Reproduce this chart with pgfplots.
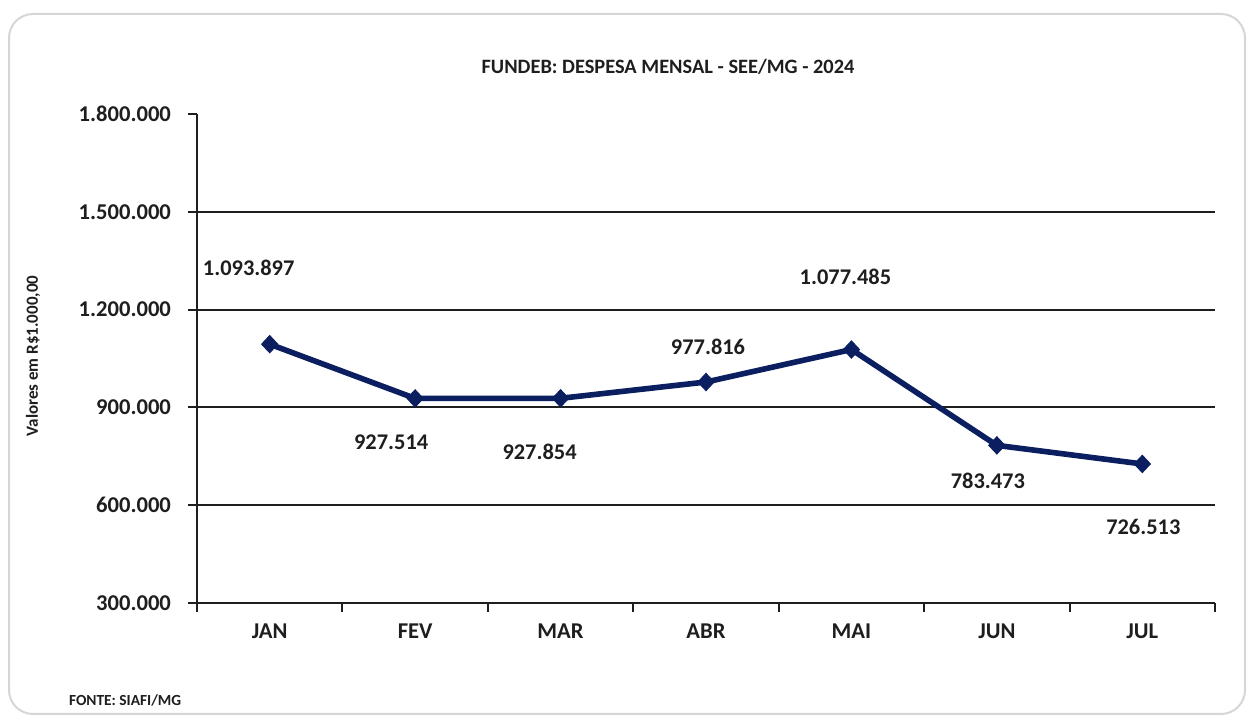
\documentclass[border=0pt]{standalone}
\usepackage{fontspec}
\setmainfont{Carlito}
\usepackage{pgfplots}
\pgfplotsset{compat=1.18}
\definecolor{navy}{RGB}{10,30,96}
\definecolor{ink}{RGB}{30,30,30}
\tikzset{lab/.style={font=\bfseries\fontsize{11.2}{13}\selectfont, text=ink}}
\begin{document}
\begin{tikzpicture}[x=1pt,y=1pt]
\useasboundingbox (0,0) rectangle (626,358);
\draw[color=black!16, line width=1pt, rounded corners=12pt] (4.5,1) rectangle (622.5,351);
\node[font=\bfseries\fontsize{10.2}{12}\selectfont, text=ink] at (334,324.5) {FUNDEB: DESPESA MENSAL - SEE/MG - 2024};
\node[font=\bfseries\fontsize{7.7}{9}\selectfont, anchor=west, text=ink] at (31,8) {FONTE: SIAFI/MG};
\node[font=\bfseries\fontsize{8.5}{10}\selectfont, rotate=90, text=ink] at (16.5,180) {Valores em R\$1.000,00};
\begin{axis}[
  at={(98.5pt,56.5pt)}, anchor=south west,
  scale only axis, width=509pt, height=244.5pt,
  xmin=-0.5, xmax=6.5, ymin=300000, ymax=1800000,
  clip=false,
  axis lines=left,
  axis line style={-, line width=1pt, draw=ink},
  tick align=outside,
  major tick length=4.5pt,
  tick style={line width=1pt, draw=ink},
  xtick={-0.5,0.5,1.5,2.5,3.5,4.5,5.5,6.5},
  xticklabels={JAN,FEV,MAR,ABR,MAI,JUN,JUL},
  x tick label as interval,
  ytick={300000,600000,900000,1200000,1500000,1800000},
  yticklabels={300.000,600.000,900.000,1.200.000,1.500.000,1.800.000},
  scaled y ticks=false,
  extra y ticks={600000,900000,1200000,1500000},
  extra y tick labels={},
  extra y tick style={grid=major, major grid style={line width=1pt, draw=ink}},
  yticklabel style={font=\bfseries\fontsize{11.3}{13}\selectfont, text=ink, xshift=-5pt},
  xticklabel style={font=\bfseries\fontsize{11.3}{13}\selectfont, text=ink, yshift=-2.5pt},
]
\addplot[navy, line width=2.8pt, mark=diamond*, mark size=4.3pt, mark options={line width=0.5pt, fill=navy, draw=navy, xscale=1.25}]
  coordinates {(0,1093897) (1,927514) (2,927854) (3,977816) (4,1077485) (5,783473) (6,726513)};
\node[lab] at (axis cs:0,1093897) [xshift=-10.5pt, yshift=38pt] {1.093.897};
\node[lab] at (axis cs:1,927514) [xshift=-12pt, yshift=-21.8pt] {927.514};
\node[lab] at (axis cs:2,927854) [xshift=-10.5pt, yshift=-26.9pt] {927.854};
\node[lab] at (axis cs:3,977816) [xshift=1pt, yshift=17.5pt] {977.816};
\node[lab] at (axis cs:4,1077485) [xshift=-3pt, yshift=36.3pt] {1.077.485};
\node[lab] at (axis cs:5,783473) [xshift=-4.5pt, yshift=-17.8pt] {783.473};
\node[lab] at (axis cs:6,726513) [xshift=0.5pt, yshift=-31.5pt] {726.513};
\end{axis}
\end{tikzpicture}
\end{document}
